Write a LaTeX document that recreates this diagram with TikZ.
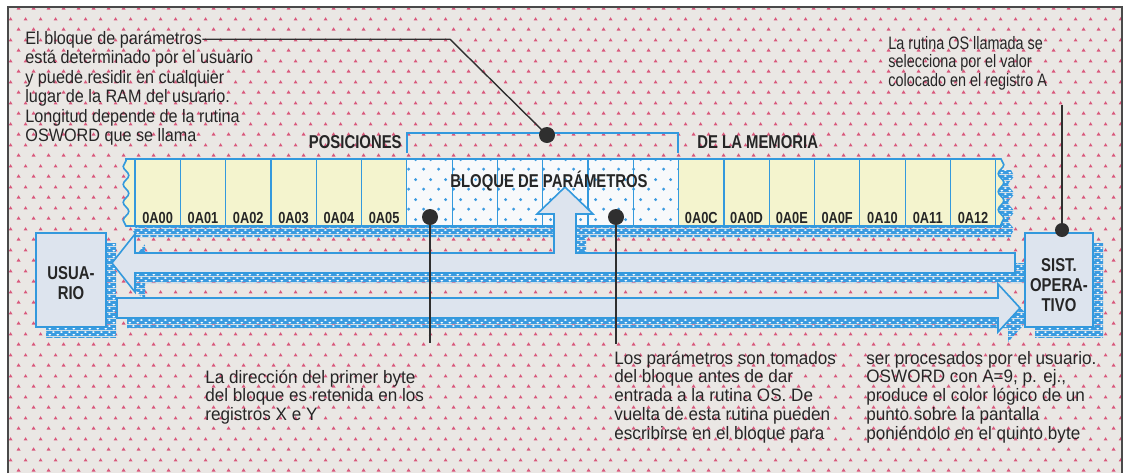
\documentclass[tikz,border=0pt]{standalone}
\usepackage{fontspec}
\setmainfont{Liberation Sans}
\newfontfamily\annA[FakeStretch=0.9]{Liberation Sans}
\newfontfamily\annB[FakeStretch=0.8]{Liberation Sans}
\newfontfamily\annC[FakeStretch=0.95]{Liberation Sans}
\newfontfamily\lblf[FakeStretch=0.8]{Liberation Sans}
\usetikzlibrary{patterns.meta,decorations.pathmorphing}
\definecolor{bgbase}{HTML}{EAE7E4}
\definecolor{dotpink}{HTML}{D9587C}
\definecolor{cellyellow}{HTML}{F4F4CE}
\definecolor{blueline}{HTML}{3399DD}
\definecolor{arrowfill}{HTML}{DDE4EE}
\definecolor{paramwhite}{HTML}{F7F9FB}
\definecolor{pdot}{HTML}{3D9BE0}
\definecolor{htblue}{HTML}{3A9BE0}
\definecolor{dotblack}{HTML}{2F2F2F}
\definecolor{framecol}{HTML}{4A4A4A}
\definecolor{txt}{HTML}{262626}
\tikzdeclarepattern{
  name=bgdots, type=colored,
  bottom left={(0pt,0pt)}, top right={(7.5pt,10.5pt)}, tile size={(7.5pt,10.5pt)},
  code={
    \fill[dotpink] (0.85pt,1.3pt) -- (2.95pt,1.3pt) -- (1.9pt,3.0pt) -- cycle;
    \fill[dotpink] (4.6pt,6.55pt) -- (6.7pt,6.55pt) -- (5.65pt,8.25pt) -- cycle;
  }
}
\tikzdeclarepattern{
  name=halftone, type=colored,
  bottom left={(0pt,0pt)}, top right={(4pt,3pt)}, tile size={(4pt,3pt)},
  code={
    \fill[htblue] (0pt,0pt) rectangle (4pt,3pt);
    \fill[white] (1pt,0.75pt) ellipse [x radius=0.85pt, y radius=0.5pt];
    \fill[white] (3pt,2.25pt) ellipse [x radius=0.85pt, y radius=0.5pt];
  }
}
\tikzdeclarepattern{
  name=bluedots, type=colored,
  bottom left={(0pt,0pt)}, top right={(7.5pt,10pt)}, tile size={(7.5pt,10pt)},
  code={
    \fill[pdot] (1.9pt,2.5pt) circle (0.85pt);
    \fill[pdot] (5.65pt,7.5pt) circle (0.85pt);
  }
}
\tikzset{
  annA/.style={font=\annA\fontsize{9}{9}\selectfont, text=txt, inner sep=0pt, anchor=base west},
  annB/.style={font=\annB\fontsize{9}{9}\selectfont, text=txt, inner sep=0pt, anchor=base west},
  annC/.style={font=\annC\fontsize{9}{9}\selectfont, text=txt, inner sep=0pt, anchor=base west},
  lbl/.style={font=\lblf\bfseries\fontsize{9.3}{10}\selectfont, text=txt, inner sep=0pt},
  celllbl/.style={font=\lblf\bfseries\fontsize{8}{9}\selectfont, text=txt, inner sep=0pt, anchor=base},
  boxst/.style={draw=blueline, fill=arrowfill, line width=0.8pt, minimum width=35pt, minimum height=47pt,
    inner sep=0pt},
  boxtxt/.style={align=center, font=\lblf\bfseries\fontsize{9.3}{10}\selectfont, text=txt, inner sep=0pt},
  arrowst/.style={draw=blueline, fill=arrowfill, line width=0.8pt, line join=miter},
  shadowst/.style={pattern=halftone},
  cellline/.style={draw=blueline, line width=0.6pt},
  bdot/.style={circle, fill=dotblack, inner sep=0pt, minimum size=8pt},
  sdot/.style={circle, fill=dotblack, inner sep=0pt, minimum size=7pt},
  leader/.style={draw=dotblack, line width=0.7pt},
  wavy/.style={decoration={snake, amplitude=1.4pt, segment length=9pt}}
}
\begin{document}
\begin{tikzpicture}[x=0.5pt,y=-0.5pt]
\useasboundingbox (0,0) rectangle (1129,473);
\fill[white] (0,0) rectangle (1129,473);
\fill[bgbase] (8,7) rectangle (1122,473);
\fill[pattern=bgdots] (8,7) rectangle (1122,473);
\draw[framecol, line width=1.1pt] (8,473) -- (8,7) -- (1122,7) -- (1122,473);

% USUARIO box
\fill[shadowst] (46,243) rectangle (116,337);
\node[boxst] (usr) at (71,280) {};
\node[boxtxt] (usrt) at (71,283) {USUA-\\RIO};

% upper arrow shadow
\fill[shadowst, shift={(10,10)}] (112,263) -- (135,234) -- (135,253) -- (554,253) -- (554,214) -- (537,214)
  -- (565,187) -- (593,214) -- (576,214) -- (576,253) -- (1015,253) -- (1015,273) -- (135,273) -- (135,292) -- cycle;

% memory strip shadow
\fill[shadowst, wavy, shift={(10,11)}] (130,159) -- (1001,159) decorate {-- (1001,226)} -- (126,226) decorate {-- (126,159)} -- cycle;
% memory strip
\fill[cellyellow, wavy] (130,159) -- (1001,159) decorate {-- (1001,226)} -- (126,226) decorate {-- (126,159)} -- cycle;
\fill[paramwhite] (407,159) rectangle (678,226);
\fill[pattern=bluedots] (407,159) rectangle (678,226);
\foreach \k in {0,...,19} \draw[cellline] ({135+45.3*\k},159) -- ({135+45.3*\k},226);
\draw[blueline, line width=0.8pt, wavy] (130,159) -- (1001,159) decorate {-- (1001,226)} -- (126,226) decorate {-- (126,159)} -- cycle;

% lower arrow shadow
\fill[shadowst, shift={(10,10)}] (117,298) -- (998,298) -- (998,284) -- (1020,308) -- (998,332) -- (998,318) -- (117,318) -- cycle;

% upper arrow (to USUARIO, with branch up to the block)
\filldraw[arrowst] (112,263) -- (135,234) -- (135,253) -- (554,253) -- (554,214) -- (537,214)
  -- (565,187) -- (593,214) -- (576,214) -- (576,253) -- (1015,253) -- (1015,273) -- (135,273) -- (135,292) -- cycle;
% lower arrow (to SIST. OPERATIVO)
\filldraw[arrowst] (117,298) -- (998,298) -- (998,284) -- (1020,308) -- (998,332) -- (998,318) -- (117,318) -- cycle;

% SIST. OPERATIVO box
\fill[shadowst] (1035,243) rectangle (1103,337);
\node[boxst, minimum width=34pt] (sys) at (1059,280) {};
\node[boxtxt] (syst) at (1059,285) {SIST.\\OPERA-\\TIVO};

% cell labels
\foreach \lab [count=\k from 0] in {0A00,0A01,0A02,0A03,0A04,0A05}
  \node[celllbl] (c\k) at ({135+45.3*\k+22.65},223) {\lab};
\foreach \lab [count=\k from 12] in {0A0C,0A0D,0A0E,0A0F,0A10,0A11,0A12}
  \node[celllbl] (c\k) at ({135+45.3*\k+22.65},223) {\lab};

% labels
\node[lbl, anchor=base east] (pos) at (402,148.5) {POSICIONES};
\node[lbl, anchor=base west] (mem) at (697,148.5) {DE LA MEMORIA};
\node[lbl, anchor=base] (bp) at (549,187) {BLOQUE DE PARÁMETROS};

% bracket
\draw[blueline, line width=0.8pt] (407,153) -- (407,133) -- (678,133) -- (678,153);

% dots
\node[bdot] (d1) at (547,135) {};
\node[bdot] (d2) at (430,217) {};
\node[bdot] (d3) at (616,217) {};
\node[sdot] (d4) at (1062,230) {};

% annotation texts
\foreach \t [count=\i] in {{El bloque de parámetros},{está determinado por el usuario},{y puede residir en cualquier},{lugar de la RAM del usuario.},{Longitud depende de la rutina},{OSWORD que se llama}}
  \node[annA] (tl\i) at (25,{44+19.5*(\i-1)}) {\t};
\foreach \t [count=\i] in {{La rutina OS llamada se},{selecciona por el valor},{colocado en el registro A}}
  \node[annB] (tr\i) at (888,{49+18.5*(\i-1)}) {\t};
\foreach \t [count=\i] in {{La dirección del primer byte},{del bloque es retenida en los},{registros X e Y}}
  \node[annC] (bl\i) at (205,{383+18.75*(\i-1)}) {\t};
\foreach \t [count=\i] in {{Los parámetros son tomados},{del bloque antes de dar},{entrada a la rutina OS. De},{vuelta de esta rutina pueden},{escribirse en el bloque para}}
  \node[annC] (bm\i) at (614,{364+18.75*(\i-1)}) {\t};
\foreach \t [count=\i] in {{ser procesados por el usuario.},{OSWORD con A=9, p. ej.,},{produce el color lógico de un},{punto sobre la pantalla},{poniéndolo en el quinto byte}}
  \node[annC] (br\i) at (866,{364+18.75*(\i-1)}) {\t};

% leaders
\coordinate (k1) at (450,37);
\coordinate (e2) at (430,343);
\coordinate (e3) at (616,344);
\coordinate (e4) at (1062,105);
\draw[leader] (tl1.east) -- (tl1.east -| k1) -- (d1.center);
\draw[leader] (d2.center) -- (e2);
\draw[leader] (d3.center) -- (e3);
\draw[leader] (e4) -- (d4.center);
\end{tikzpicture}
\end{document}
